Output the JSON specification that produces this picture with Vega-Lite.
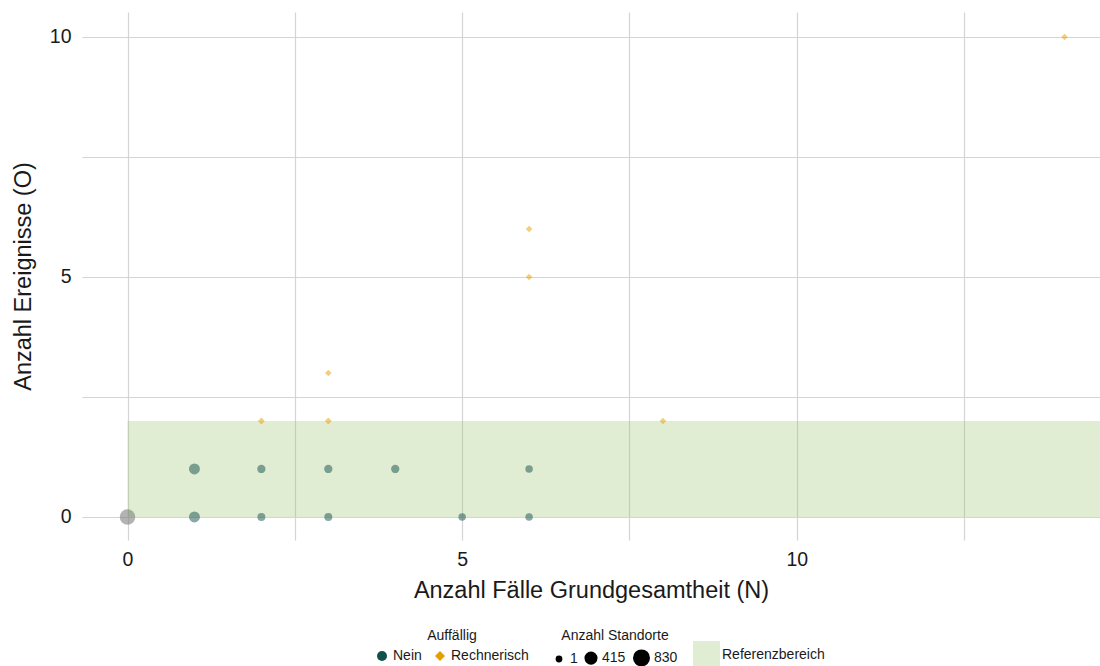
{
  "$schema": "https://vega.github.io/schema/vega-lite/v6.json",
  "width": 1018,
  "height": 528,
  "autosize": {"type": "none"},
  "padding": {"left": 82, "top": 12, "right": 0, "bottom": 126},
  "background": "white",
  "config": {
    "view": {"stroke": null},
    "font": "Liberation Sans",
    "axis": {
      "domain": false,
      "ticks": false,
      "gridColor": "#d4d4d4",
      "gridWidth": 1.2,
      "labelFont": "Liberation Sans",
      "labelFontSize": 19.5,
      "labelColor": "#1a1a1a",
      "titleFont": "Liberation Sans",
      "titleFontSize": 23.5,
      "titleFontWeight": "normal",
      "titleColor": "#1a1a1a"
    },
    "legend": {
      "labelFont": "Liberation Sans",
      "labelFontSize": 14,
      "labelColor": "#1a1a1a",
      "titleFont": "Liberation Sans",
      "titleFontSize": 14,
      "titleFontWeight": "normal",
      "titleColor": "#1a1a1a"
    }
  },
  "layer": [
    {
      "data": {"values": [{"x": 0, "x2": 15, "y": 0, "y2": 2, "bereich": "Referenzbereich"}]},
      "mark": {"type": "rect", "opacity": 0.3, "clip": true},
      "encoding": {
        "x": {"field": "x", "type": "quantitative",
          "scale": {"domain": [-0.68, 14.53], "nice": false, "zero": false},
          "axis": {"values": [0, 2.5, 5, 7.5, 10, 12.5], "labelExpr": "datum.value % 5 === 0 ? format(datum.value, 'd') : ''", "title": "Anzahl Fälle Grundgesamtheit (N)", "labelPadding": 10, "titlePadding": 10}},
        "x2": {"field": "x2"},
        "y": {"field": "y", "type": "quantitative",
          "scale": {"domain": [-0.48, 10.52], "nice": false, "zero": false},
          "axis": {"values": [0, 2.5, 5, 7.5, 10], "labelExpr": "datum.value % 5 === 0 ? format(datum.value, 'd') : ''", "title": "Anzahl Ereignisse (O)", "labelPadding": 11, "titlePadding": 14}},
        "y2": {"field": "y2"},
        "fill": {"field": "bereich", "type": "nominal",
          "scale": {"range": ["#9dc26a"]},
          "legend": {"title": null, "orient": "none", "legendX": 611, "legendY": 629, "symbolType": "square", "symbolSize": 729, "symbolOpacity": 0.3, "symbolStrokeWidth": 0, "labelOffset": 2}}
      }
    },
    {
      "data": {"values": [{"N": 0, "O": 0, "standorte": 830}]},
      "mark": {"type": "point", "filled": true, "shape": "circle", "color": "#808080", "opacity": 0.6},
      "encoding": {
        "x": {"field": "N", "type": "quantitative"},
        "y": {"field": "O", "type": "quantitative"},
        "size": {"field": "standorte", "type": "quantitative", "title": "Anzahl Standorte",
          "legend": {"orient": "none", "legendX": 470, "legendY": 617, "direction": "horizontal", "values": [1, 415, 830], "titleAnchor": "middle", "symbolType": "circle", "columnPadding": 4, "titlePadding": 6, "labelOffset": 4, "symbolFillColor": "black", "symbolStrokeColor": "black", "symbolOpacity": 1,
            "encode": {"symbols": {"update": {"fill": {"value": "black"}, "stroke": {"value": "black"}, "opacity": {"value": 1}, "fillOpacity": {"value": 1}}}}}}
      }
    },
    {
      "data": {"values": [
        {"N": 1, "O": 1, "standorte": 360, "auff": "Nein"},
        {"N": 2, "O": 1, "standorte": 160, "auff": "Nein"},
        {"N": 3, "O": 1, "standorte": 160, "auff": "Nein"},
        {"N": 4, "O": 1, "standorte": 160, "auff": "Nein"},
        {"N": 6, "O": 1, "standorte": 110, "auff": "Nein"},
        {"N": 1, "O": 0, "standorte": 360, "auff": "Nein"},
        {"N": 2, "O": 0, "standorte": 140, "auff": "Nein"},
        {"N": 3, "O": 0, "standorte": 140, "auff": "Nein"},
        {"N": 5, "O": 0, "standorte": 110, "auff": "Nein"},
        {"N": 6, "O": 0, "standorte": 110, "auff": "Nein"},
        {"N": 2, "O": 2, "standorte": 80, "auff": "Rechnerisch"},
        {"N": 3, "O": 2, "standorte": 80, "auff": "Rechnerisch"},
        {"N": 3, "O": 3, "standorte": 60, "auff": "Rechnerisch"},
        {"N": 6, "O": 5, "standorte": 60, "auff": "Rechnerisch"},
        {"N": 6, "O": 6, "standorte": 60, "auff": "Rechnerisch"},
        {"N": 8, "O": 2, "standorte": 60, "auff": "Rechnerisch"},
        {"N": 14, "O": 10, "standorte": 60, "auff": "Rechnerisch"}
      ]},
      "mark": {"type": "point", "filled": true, "opacity": 0.5},
      "encoding": {
        "x": {"field": "N", "type": "quantitative"},
        "y": {"field": "O", "type": "quantitative"},
        "color": {"field": "auff", "type": "nominal", "title": "Auffällig",
          "scale": {"domain": ["Nein", "Rechnerisch"], "range": ["#12504c", "#e69f00"]},
          "legend": {"orient": "none", "legendX": 293, "legendY": 617, "direction": "horizontal", "titleAnchor": "middle", "symbolOpacity": 1, "symbolSize": 100, "columnPadding": 10, "titlePadding": 6, "labelOffset": 4}},
        "shape": {"field": "auff", "type": "nominal", "title": "Auffällig",
          "scale": {"domain": ["Nein", "Rechnerisch"], "range": ["circle", "diamond"]},
          "legend": {"orient": "none", "legendX": 293, "legendY": 617, "direction": "horizontal", "titleAnchor": "middle", "symbolOpacity": 1, "symbolSize": 100, "columnPadding": 10, "titlePadding": 6, "labelOffset": 4}},
        "size": {"field": "standorte", "type": "quantitative", "title": "Anzahl Standorte",
          "scale": {"type": "linear", "domain": [1, 830], "range": [28, 240], "zero": false},
          "legend": {"orient": "none", "legendX": 470, "legendY": 617, "direction": "horizontal", "values": [1, 415, 830], "titleAnchor": "middle", "symbolType": "circle", "columnPadding": 4, "titlePadding": 6, "labelOffset": 4, "symbolFillColor": "black", "symbolStrokeColor": "black", "symbolOpacity": 1,
            "encode": {"symbols": {"update": {"fill": {"value": "black"}, "stroke": {"value": "black"}, "opacity": {"value": 1}, "fillOpacity": {"value": 1}}}}}}
      }
    }
  ]
}
